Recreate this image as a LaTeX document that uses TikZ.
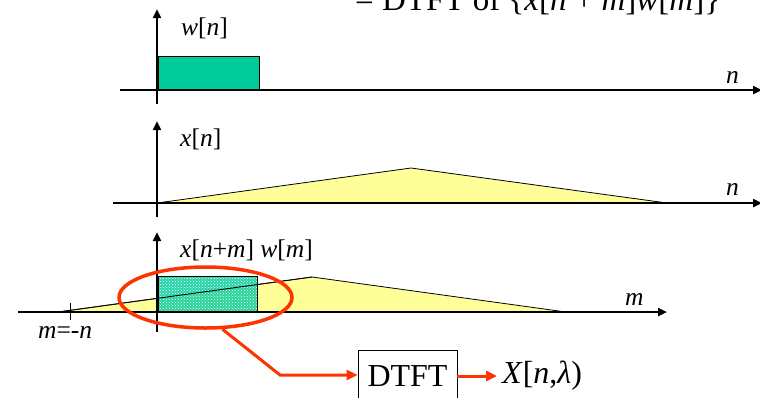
\documentclass[tikz,border=0pt]{standalone}
\usepackage{fontspec}
\setmainfont{Liberation Serif}
\usetikzlibrary{arrows.meta,shapes.geometric,patterns}
\definecolor{wgreen}{RGB}{0,204,153}
\definecolor{xyellow}{RGB}{255,255,153}
\definecolor{hred}{RGB}{255,51,0}
\begin{document}
\begin{tikzpicture}[x=1pt,y=-1pt,
  axisline/.style={line width=2.6pt,-{Triangle[length=9pt,width=8pt]}},
  lbl/.style={font=\fontsize{25.5}{28}\selectfont,inner sep=0pt,anchor=base west},
  big/.style={font=\fontsize{32}{36}\selectfont},
  shape outline/.style={draw=black,line width=0.8pt},
  redline/.style={draw=hred,line width=3pt},
  redarrow/.style={redline,-{Triangle[length=11pt,width=10pt]}}]
\useasboundingbox (0,0) rectangle (760,397);

% title (cut at top)
\node[font=\fontsize{33}{38}\selectfont,anchor=base west,inner sep=0pt] (title) at (355,10)
  {= DTFT of \{\textit{x}[\textit{n} + \textit{m}]\textit{w}[\textit{m}]\}};

% ---- panel 1: w[n]
\filldraw[fill=wgreen,shape outline] (158,56) rectangle (259,90);
\draw[axisline] (120,90) -- (762,90);
\draw[axisline] (157,104) -- (157,9);
\node[lbl] (wlab) at (181,35) {\textit{w}[\textit{n}]};
\node[lbl] (n1) at (726,83) {\textit{n}};

% ---- panel 2: x[n]
\filldraw[fill=xyellow,shape outline] (157,203) -- (411,168) -- (667,203) -- cycle;
\draw[axisline] (113,203) -- (762,203);
\draw[axisline] (157,217) -- (157,121);
\node[lbl] (xlab) at (180,146) {\textit{x}[\textit{n}]};
\node[lbl] (n2) at (726,195) {\textit{n}};

% ---- panel 3: x[n+m] w[m]
\filldraw[fill=xyellow,shape outline] (58,312) -- (312,277) -- (566,312) -- cycle;
\fill[wgreen,fill opacity=0.85] (158,276) rectangle (257,312);
\fill[pattern=crosshatch dots,pattern color=white] (158,276) rectangle (257,312);
\draw[shape outline] (58,312) -- (312,277);
\draw[shape outline] (158,276) rectangle (257,312);
\draw[axisline] (18,312) -- (667,312);
\draw[axisline] (157,332) -- (157,232);
\draw[line width=1pt] (70,303) -- (70,320);
\node[lbl] (xwlab) at (180,257) {\textit{x}[\textit{n}+\textit{m}] \textit{w}[\textit{m}]};
\node[lbl] (mlab) at (625,305) {\textit{m}};
\node[lbl] (mnlab) at (38,338) {\textit{m}=-\textit{n}};

% ---- highlight and DTFT
\node[ellipse,draw=hred,line width=3.5pt,minimum width=173pt,minimum height=61pt,inner sep=0pt] (ell) at (205.5,297.5) {};
\node[big,draw=black,line width=0.8pt,fill=white,minimum width=99pt,minimum height=52pt,inner sep=0pt] (dtft) at (407.5,376) {DTFT};
\node[big,anchor=west,inner xsep=5pt,inner ysep=0pt] (X) at (497,376) {\textit{X}[\textit{n},\textit{λ})};
\coordinate (bend) at (280,375);
\draw[redarrow] (ell.-62) -- (bend) -- (bend -| dtft.west);
\draw[redarrow] (dtft.east) -- (dtft.east -| X.west);
\end{tikzpicture}
\end{document}
